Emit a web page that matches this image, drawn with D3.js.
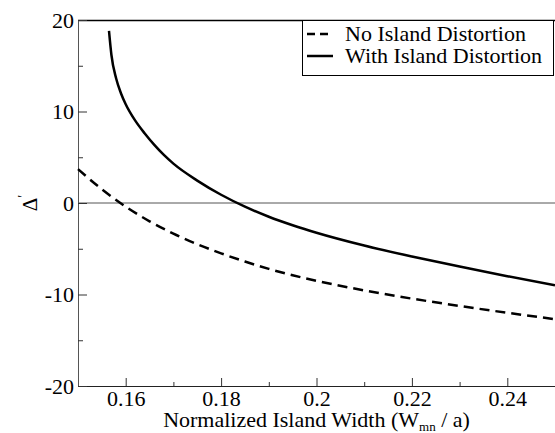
<!DOCTYPE html>
<html lang="en">
<head>
  <meta charset="UTF-8">
  <title>Delta prime vs island width</title>
  <script src="https://d3js.org/d3.v7.min.js"></script>
  <style>
    body {
      margin: 0;
      background: #fff;
    }
    svg {
      display: block;
    }
    svg text {
      font-family: "Liberation Serif", "DejaVu Serif", serif !important;
    }
  </style>
</head>
<body>
  <svg width="555" height="433"></svg>

  <script>
    // island width (normalized) and Delta' values
    const noDistX = [0.150, 0.155, 0.160, 0.165, 0.170, 0.175, 0.180, 0.185, 0.190, 0.195,
                     0.200, 0.210, 0.220, 0.230, 0.240, 0.250];
    const noDistY = [3.7, 1.5, -0.4, -2.0, -3.35, -4.5, -5.5, -6.4, -7.2, -7.9,
                     -8.5, -9.55, -10.45, -11.25, -12.0, -12.7];

    const withDistX = [0.1565, 0.157, 0.158, 0.159, 0.160, 0.162, 0.164, 0.166, 0.168, 0.170,
                       0.175, 0.180, 0.185, 0.190, 0.195, 0.200, 0.210, 0.220, 0.230, 0.240, 0.250];
    const withDistY = [18.8, 16.2, 13.6, 12.0, 10.8, 9.0, 7.6, 6.35, 5.25, 4.3,
                       2.45, 0.9, -0.4, -1.5, -2.43, -3.25, -4.65, -5.85, -6.95, -8.0, -9.0];

    const xMajor = [0.16, 0.18, 0.20, 0.22, 0.24];
    const xMinor = [0.17, 0.19, 0.21, 0.23, 0.25];
    const yMajor = [-20, -10, 0, 10, 20];
    const yMinor = [-15, -5, 5, 15];

    const legendLabels = ["No Island Distortion", "With Island Distortion"];

    const svg = d3.select("svg");
    const margin = {top: 20, right: 0, bottom: 47, left: 78};
    const width = 555 - margin.left - margin.right;
    const height = 433 - margin.top - margin.bottom;

    const x = d3.scaleLinear().domain([0.15, 0.25]).range([0, width]);
    const y = d3.scaleLinear().domain([-20, 20]).range([height, 0]);

    const g = svg.append("g")
      .attr("transform", `translate(${margin.left},${margin.top})`);

    // zero line
    g.append("line")
      .attr("x1", 0).attr("x2", width)
      .attr("y1", y(0)).attr("y2", y(0))
      .attr("stroke", "#555").attr("stroke-width", 1);

    // top border
    g.append("line")
      .attr("x1", 0).attr("x2", width)
      .attr("y1", 0.5).attr("y2", 0.5)
      .attr("stroke", "#000").attr("stroke-width", 1.5);

    const fmtX = d => String(+d.toFixed(2));
    const fmtY = d => String(d);

    // x axis
    const xAxis = g.append("g")
      .attr("transform", `translate(0,${height})`)
      .call(d3.axisBottom(x).tickValues(xMajor).tickSize(-8).tickPadding(4).tickFormat(fmtX));
    g.append("g")
      .attr("transform", `translate(0,${height})`)
      .call(d3.axisBottom(x).tickValues(xMinor).tickSize(-4).tickFormat(""))
      .select(".domain").remove();

    // y axis
    const yAxis = g.append("g")
      .call(d3.axisLeft(y).tickValues(yMajor).tickSize(-9).tickPadding(4).tickFormat(fmtY));
    g.append("g")
      .call(d3.axisLeft(y).tickValues(yMinor).tickSize(-5).tickFormat(""))
      .select(".domain").remove();

    svg.selectAll(".tick line").attr("stroke", "#333");
    xAxis.select(".domain").attr("stroke", "#222");
    yAxis.select(".domain").attr("stroke", "#555");
    svg.selectAll(".tick text")
      .attr("font-size", 22)
      .attr("fill", "#000");
    yAxis.selectAll(".tick text").attr("x", -4);

    // curves
    const line = d3.line()
      .x(d => x(d[0]))
      .y(d => y(d[1]))
      .curve(d3.curveMonotoneX);

    g.append("path")
      .datum(d3.zip(noDistX, noDistY))
      .attr("d", line)
      .attr("fill", "none")
      .attr("stroke", "#000")
      .attr("stroke-width", 2.5)
      .attr("stroke-dasharray", "10,6");

    g.append("path")
      .datum(d3.zip(withDistX, withDistY))
      .attr("d", line)
      .attr("fill", "none")
      .attr("stroke", "#000")
      .attr("stroke-width", 2.5);

    // legend
    const legend = svg.append("g").attr("transform", "translate(302,20)");
    legend.append("rect")
      .attr("x", 0.5).attr("y", 0.5)
      .attr("width", 251).attr("height", 55)
      .attr("fill", "#fff")
      .attr("stroke", "#000")
      .attr("stroke-width", 1);
    legendLabels.forEach((lab, i) => {
      const yy = 14 + i * 22;
      legend.append("line")
        .attr("x1", 5).attr("x2", 31)
        .attr("y1", yy).attr("y2", yy)
        .attr("stroke", "#000")
        .attr("stroke-width", 2.5)
        .attr("stroke-dasharray", i === 0 ? "8,5" : null);
      legend.append("text")
        .attr("x", 43).attr("y", yy + 7)
        .attr("font-size", 22)
        .text(lab);
    });

    // axis titles
    const xt = svg.append("text")
      .attr("x", margin.left + width / 2)
      .attr("y", 427)
      .attr("text-anchor", "middle")
      .attr("font-size", 22);
    xt.append("tspan").text("Normalized Island Width (W");
    xt.append("tspan").attr("font-size", 13).attr("dy", 4).text("mn");
    xt.append("tspan").attr("dy", -4).text(" / a)");

    const yt = svg.append("text")
      .attr("transform", `translate(37,${margin.top + height / 2}) rotate(-90)`)
      .attr("text-anchor", "middle")
      .attr("font-size", 21);
    yt.append("tspan").text("Δ");
    yt.append("tspan").attr("font-size", 14).attr("dy", -9).text("′");
  </script>
</body>
</html>
